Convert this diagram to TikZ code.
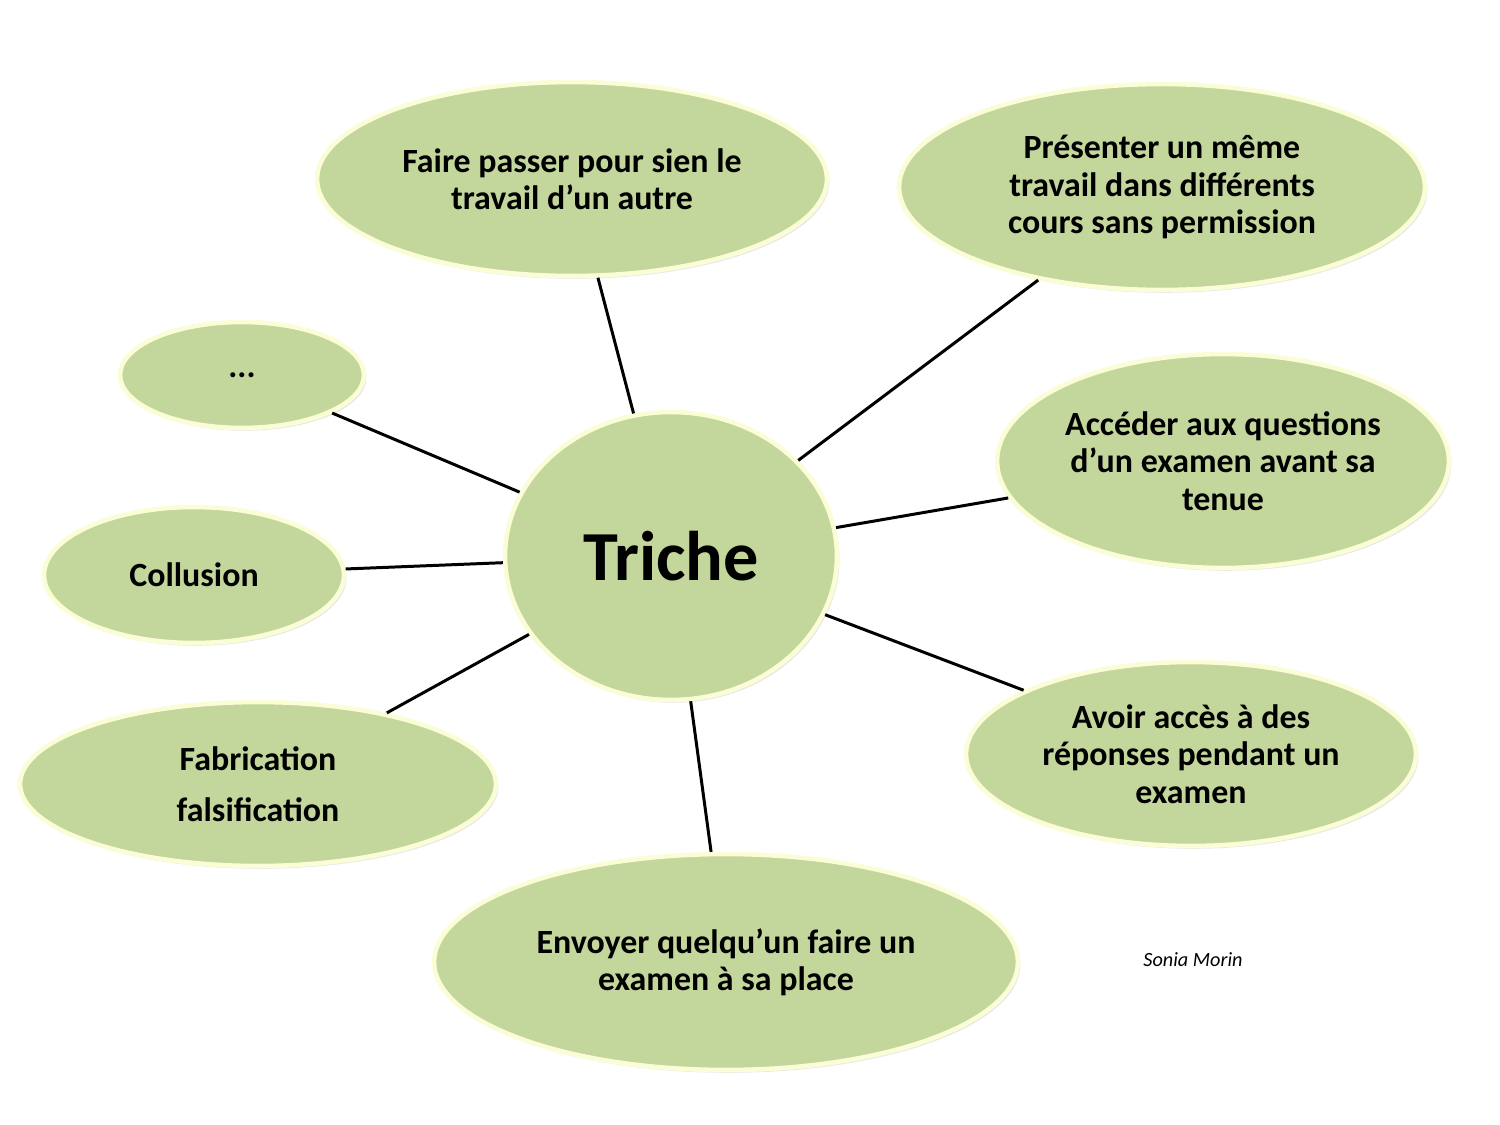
\documentclass[tikz,border=0pt]{standalone}
\usepackage{fontspec}
\setmainfont{Carlito}
\usetikzlibrary{shapes.geometric,shadows}
\definecolor{leafgreen}{HTML}{C3D69B}
\definecolor{paleedge}{HTML}{FBFDD6}
\tikzset{
  idea/.style={ellipse, fill=leafgreen, draw=paleedge, line width=2.6pt,
    inner sep=0pt, align=center,
    font=\bfseries\fontsize{19.3}{21.2}\selectfont,
    drop shadow={shadow xshift=1.4pt, shadow yshift=-1.6pt, fill=black!20, opacity=0.45}},
  spoke/.style={line width=1.7pt, black}
}
\begin{document}
\begin{tikzpicture}[x=0.02cm, y=-0.02cm]
  \useasboundingbox (0,0) rectangle (1500,1125);

  % centre
  \node[idea, minimum width=6.64cm, minimum height=5.76cm,
        font=\bfseries\fontsize{40}{48}\selectfont] (triche) at (671,556) {Triche};

  % branches
  \node[idea, minimum width=10.2cm, minimum height=3.88cm] (autre) at (572,179)
    {Faire passer pour sien le\\travail d’un autre};
  \node[idea, minimum width=10.52cm, minimum height=4.12cm] (meme) at (1162,187)
    {Présenter un même\\travail dans différents\\cours sans permission};
  \node[idea, minimum width=4.88cm, minimum height=2.12cm] (etc) at (242,375) {...};
  \node[idea, minimum width=9.04cm, minimum height=4.28cm] (questions) at (1223,461)
    {Accéder aux questions\\d’un examen avant sa\\tenue};
  \node[idea, minimum width=6.0cm, minimum height=2.72cm] (collusion) at (194,575)
    {Collusion};
  \node[idea, minimum width=9.52cm, minimum height=3.28cm] (fabrication) at (258,784)
    {Fabrication\\[8pt]falsification};
  \node[idea, minimum width=9.0cm, minimum height=3.68cm] (reponses) at (1191,754)
    {Avoir accès à des\\réponses pendant un\\examen};
  \node[idea, minimum width=11.68cm, minimum height=4.32cm] (envoyer) at (726,962)
    {Envoyer quelqu’un faire un\\examen à sa place};

  \foreach \b in {autre,meme,etc,questions,collusion,fabrication,reponses,envoyer}
    \draw[spoke] (triche) -- (\b);

  \node[font=\itshape\fontsize{11.5}{14}\selectfont] (auteur) at (1193,960) {Sonia Morin};
\end{tikzpicture}
\end{document}
